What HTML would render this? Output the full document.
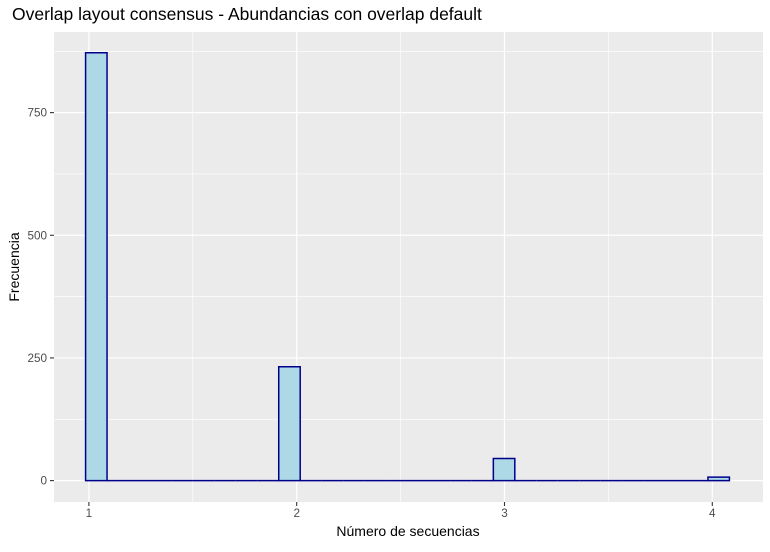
<!DOCTYPE html>
<html><head><meta charset="utf-8"><style>
body{margin:0;background:#fff;font-family:"Liberation Sans",sans-serif}
</style></head><body>
<svg width="770" height="547" xmlns="http://www.w3.org/2000/svg" font-family="Liberation Sans, sans-serif">
<text x="12" y="20" font-size="17.5" fill="#000">Overlap layout consensus - Abundancias con overlap default</text>
<rect x="54" y="32" width="709" height="470" fill="#ebebeb"/>
<g id="grid"></g>
<g id="bars"></g>
<g id="axes"></g>
<text x="408" y="536" font-size="14" text-anchor="middle" fill="#000">Número de secuencias</text>
<text transform="translate(19,267) rotate(-90)" font-size="14" text-anchor="middle" fill="#000">Frecuencia</text>
</svg>
<script>
const binStart = 0.984;
const binWidth = 0.10328;
const counts = [872,0,0,0,0,0,0,0,0,232,0,0,0,0,0,0,0,0,0,45,0,0,0,0,0,0,0,0,0,7];
const xTicks = [1,2,3,4];
const yTicks = [0,250,500,750];
const NS="http://www.w3.org/2000/svg";
const X0=54,X1=763,Y0=32,Y1=502;
const xmin=0.832, xmax=4.244;
const yminV=-43.6, ymaxV=914.3;
const sx=v=>X0+(v-xmin)/(xmax-xmin)*(X1-X0);
const sy=v=>Y1-(v-yminV)/(ymaxV-yminV)*(Y1-Y0);
function mk(tag,attrs,parent){const e=document.createElementNS(NS,tag);for(const k in attrs)e.setAttribute(k,attrs[k]);parent.appendChild(e);return e;}
const grid=document.getElementById('grid'),bars=document.getElementById('bars'),axes=document.getElementById('axes');
for(let i=0;i<xTicks.length-1;i++){const m=(xTicks[i]+xTicks[i+1])/2;const l=mk('line',{x1:sx(m),x2:sx(m),y1:Y0,y2:Y1,stroke:'#fff','stroke-width':0.6},grid);

}
for(let i=0;i<yTicks.length;i++){const m=yTicks[i]+125;if(sy(m)>Y0){const l=mk('line',{x1:X0,x2:X1,y1:sy(m),y2:sy(m),stroke:'#fff','stroke-width':0.6},grid);

}}
xTicks.forEach(t=>{const l=mk('line',{x1:sx(t),x2:sx(t),y1:Y0,y2:Y1,stroke:'#fff','stroke-width':1.2},grid);


const tk=mk('line',{x1:sx(t),x2:sx(t),y1:Y1,y2:Y1+4,stroke:'#333','stroke-width':1.1},axes);


const tx=mk('text',{x:sx(t),y:Y1+15,'font-size':11.7,'text-anchor':'middle',fill:'#4d4d4d'},axes);tx.textContent=t;

});
yTicks.forEach(t=>{const l=mk('line',{x1:X0,x2:X1,y1:sy(t),y2:sy(t),stroke:'#fff','stroke-width':1.2},grid);


const tk=mk('line',{x1:X0-4,x2:X0,y1:sy(t),y2:sy(t),stroke:'#333','stroke-width':1.1},axes);


const tx=mk('text',{x:X0-7,y:sy(t)+4,'font-size':11.7,'text-anchor':'end',fill:'#4d4d4d'},axes);tx.textContent=t;

});
counts.forEach((c,i)=>{const a=binStart+i*binWidth,b=a+binWidth;const x=sx(a),x2=sx(b),y=sy(c),y0=sy(0);
const r=mk('path',{d:`M${x},${y0}L${x},${y}L${x2},${y}L${x2},${y0}Z`,fill:'#add8e6',stroke:'#00008b','stroke-width':1.5,'stroke-linejoin':'miter'},bars);

});
</script>
</body></html>
